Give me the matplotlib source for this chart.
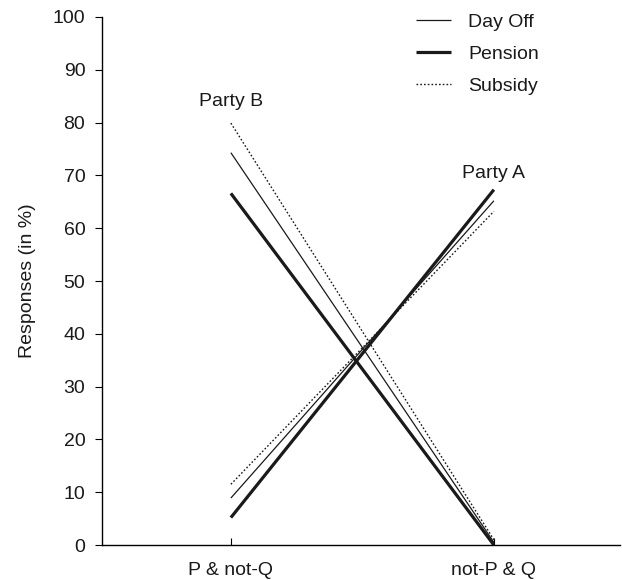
import matplotlib
matplotlib.use("Agg")
import matplotlib.pyplot as plt

plt.rcParams['font.family'] = ['Liberation Sans', 'DejaVu Sans']

categories = ["P & not-Q", "not-P & Q"]
series = ["Day Off", "Pension", "Subsidy"]
party_b = {"Day Off": [74.3, 0.5], "Pension": [66.6, 0.0], "Subsidy": [79.9, 1.0]}
party_a = {"Day Off": [8.9, 65.2], "Pension": [5.2, 67.3], "Subsidy": [11.5, 63.2]}
styles = {"Day Off": dict(lw=0.9, ls='-'),
          "Pension": dict(lw=2.3, ls='-'),
          "Subsidy": dict(lw=1.0, ls=(0, (1.2, 1.5)))}
yticks = list(range(0, 101, 10))

FS = 14
TC = '#1a1a1a'
fig = plt.figure(figsize=(6.22, 5.8), dpi=100)
ax = fig.add_axes([0.164, 0.0603, 0.833, 0.9104])
x = [0, 1]
for s in series:
    ax.plot(x, party_b[s], color=TC, label=s, solid_capstyle='butt', **styles[s])
    ax.plot(x, party_a[s], color=TC, solid_capstyle='butt', **styles[s])

ax.text(0, 84.0, "Party B", ha='center', va='center', fontsize=FS, color=TC)
ax.text(1, 70.4, "Party A", ha='center', va='center', fontsize=FS, color=TC)

ax.set_xlim(-0.49, 1.48)
ax.set_ylim(0, 100)
ax.set_xticks(x)
ax.set_xticklabels(categories, fontsize=FS, color=TC)
ax.set_yticks(yticks)
ax.set_yticklabels([str(t) for t in yticks], fontsize=FS, color=TC)
ax.tick_params(axis='x', direction='in', length=5, pad=12)
ax.tick_params(axis='y', direction='out', length=5, pad=7)
ax.set_ylabel("Responses (in %)", fontsize=FS, color=TC, labelpad=12)
for sp in ['top', 'right']:
    ax.spines[sp].set_visible(False)
for sp in ['left', 'bottom']:
    ax.spines[sp].set_linewidth(1.0)

leg = ax.legend(loc='upper left', bbox_to_anchor=(0.572, 1.04), frameon=False,
                fontsize=FS, handlelength=1.8, handletextpad=0.88, labelspacing=0.73)
for t in leg.get_texts():
    t.set_color(TC)

fig.savefig("out.png", dpi=100)
